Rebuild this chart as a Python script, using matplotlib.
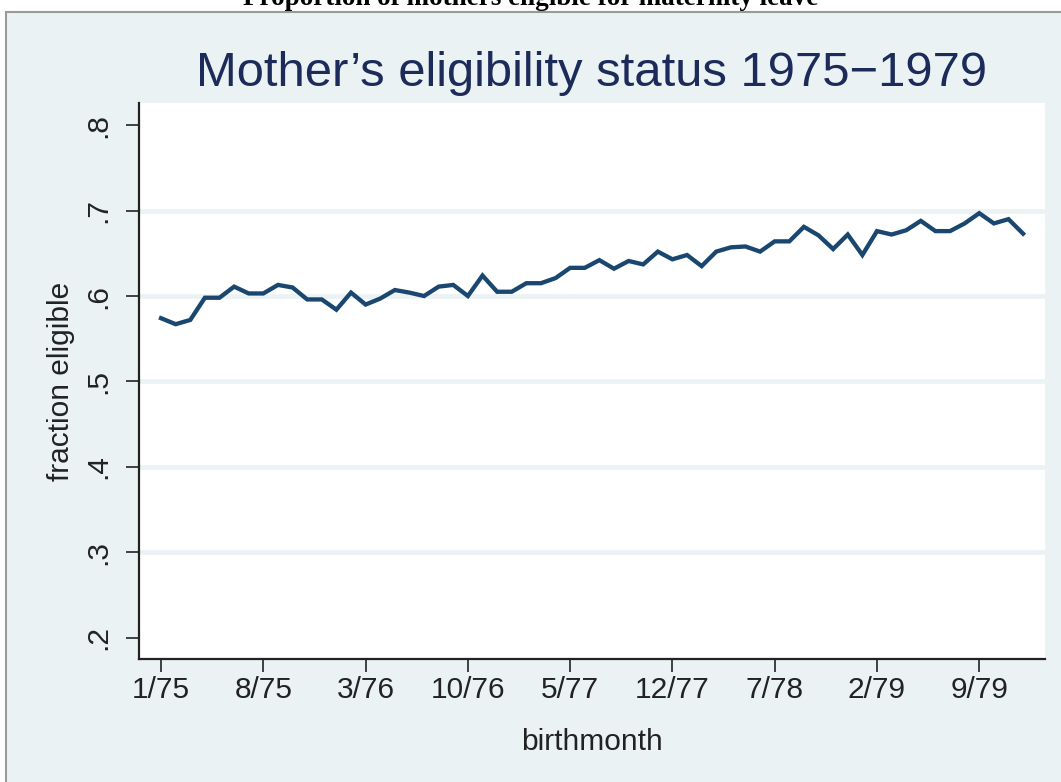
import matplotlib
matplotlib.use("Agg")
from matplotlib import pyplot as plt
from matplotlib.patches import Rectangle

# monthly fraction of mothers eligible, 1/75 .. 12/79
month_index = list(range(60))
fraction_eligible = [
    0.574, 0.567, 0.572, 0.598, 0.598, 0.611, 0.603, 0.603, 0.613, 0.610,
    0.596, 0.596, 0.584, 0.604, 0.590, 0.597, 0.607, 0.604, 0.600, 0.611,
    0.613, 0.600, 0.624, 0.605, 0.605, 0.615, 0.615, 0.621, 0.633, 0.633,
    0.642, 0.632, 0.641, 0.637, 0.652, 0.643, 0.648, 0.635, 0.652, 0.657,
    0.658, 0.652, 0.664, 0.664, 0.681, 0.671, 0.655, 0.672, 0.648, 0.676,
    0.672, 0.677, 0.688, 0.676, 0.676, 0.685, 0.697, 0.685, 0.690, 0.673,
]
x_ticks = [0, 7, 14, 21, 28, 35, 42, 49, 56]
x_tick_labels = ["1/75", "8/75", "3/76", "10/76", "5/77", "12/77", "7/78", "2/79", "9/79"]
y_ticks = [0.2, 0.3, 0.4, 0.5, 0.6, 0.7, 0.8]
y_tick_labels = [".2", ".3", ".4", ".5", ".6", ".7", ".8"]
grid_levels = [0.3, 0.4, 0.5, 0.6, 0.7]

BG = "#eaf2f3"
LINE = "#1a476f"
TITLE = "#1c2b5a"
INK = "#222222"

plt.rcParams["font.family"] = ["Liberation Sans", "DejaVu Sans"]

W, H = 1061, 782
fig = plt.figure(figsize=(W / 100, H / 100), dpi=100)
fig.patch.set_facecolor("white")

# graph region with grey frame (behind the axes)
frame = Rectangle((6 / W, -0.01), 1, 1.01 - 12 / H, transform=fig.transFigure,
                  facecolor=BG, edgecolor="#9a9a9a", linewidth=1.5, zorder=-5)
fig.add_artist(frame)

fig.text(0.5, 1 - 5 / H, "Proportion of mothers eligible for maternity leave",
         ha="center", va="baseline", family=["Liberation Serif", "DejaVu Serif"],
         fontweight="bold", fontsize=19.5, color="black")

ax = fig.add_axes([139 / W, 1 - 659 / H, (1045 - 139) / W, (659 - 103) / H])
ax.set_zorder(2)
ax.set_facecolor("white")
for level in grid_levels:
    ax.axhline(level, color=BG, linewidth=3.3, zorder=1)
ax.plot(month_index, fraction_eligible, color=LINE, linewidth=3.1, zorder=3,
        solid_joinstyle="miter")

ax.set_xlim(-1.51, 60.5)
ax.set_ylim(0.175, 0.826)
ax.set_xticks(x_ticks)
ax.set_xticklabels(x_tick_labels)
ax.set_yticks(y_ticks)
ax.set_yticklabels(y_tick_labels)
ax.tick_params(axis="both", direction="out", length=9.6, width=1.2, color=INK,
               labelsize=21.5, labelcolor=INK)
ax.tick_params(axis="x", pad=3)
ax.tick_params(axis="y", pad=10, labelrotation=90)
for lbl in ax.get_yticklabels():
    lbl.set_va("center")
for side in ["top", "right"]:
    ax.spines[side].set_visible(False)
for side in ["left", "bottom"]:
    ax.spines[side].set_linewidth(1.6)
    ax.spines[side].set_color(INK)

ax.set_xlabel("birthmonth", fontsize=21.5, color=INK, labelpad=17)
ax.set_ylabel("fraction eligible", fontsize=21.5, color=INK, labelpad=6)
ax.set_title("Mother\u2019s eligibility status 1975\u22121979", fontsize=35.3,
             color=TITLE, pad=12)

fig.savefig("out.png", dpi=100, facecolor=fig.get_facecolor())
